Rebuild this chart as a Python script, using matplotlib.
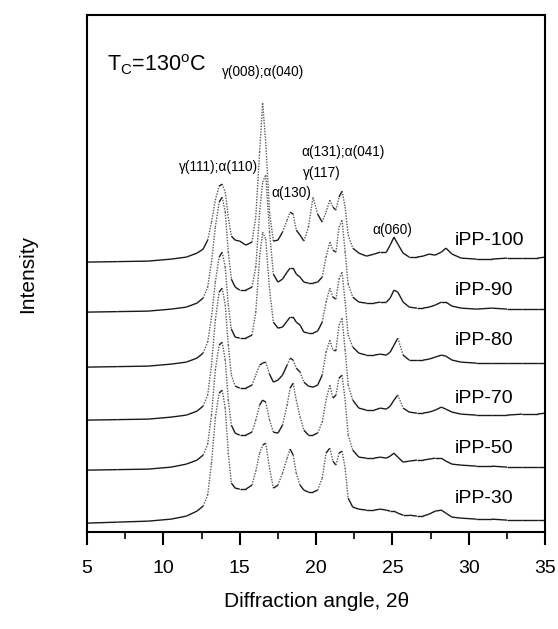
import numpy as np
import matplotlib
matplotlib.use("Agg")
import matplotlib.pyplot as plt
from matplotlib.collections import LineCollection

matplotlib.rcParams['font.family'] = ['Liberation Sans', 'DejaVu Sans']
matplotlib.rcParams['mathtext.fontset'] = 'custom'
matplotlib.rcParams['mathtext.rm'] = 'Liberation Sans'

# 2theta grid (deg)
two_theta = [5, 7, 9, 10.5, 11.5, 12.2, 12.6, 12.9, 13.15, 13.4, 13.65, 13.85, 14.05, 14.25,
             14.45, 14.7, 15.0, 15.4, 15.8, 16.05, 16.3, 16.5, 16.7, 16.95, 17.2, 17.5, 17.8,
             18.1, 18.3, 18.5, 18.7, 18.95, 19.2, 19.5, 19.8, 20.1, 20.4, 20.65, 20.9, 21.1,
             21.3, 21.5, 21.7, 21.9, 22.1, 22.4, 22.8, 23.3, 23.8, 24.2, 24.6, 24.85, 25.1,
             25.35, 25.7, 26.1, 26.6, 27.0, 27.4, 27.8, 28.2, 28.5, 28.9, 29.5, 30.5, 31.5,
             32.5, 33.5, 34.5, 35]

# intensity above each curve's own baseline (a.u.)
ipp100 = [0, 0.5, 1, 3, 5, 9, 13, 22, 40, 62, 76, 78, 70, 45,
          26, 22, 21, 17, 20, 45, 110, 159, 120, 50, 21, 22, 30,
          42, 50, 48, 32, 27, 21, 35, 65, 48, 40, 50, 62, 55,
          52, 65, 71, 55, 27, 14, 9, 6, 8, 10, 10, 17, 25,
          18, 9, 5, 5, 6, 8, 7, 10, 14, 8, 4, 3, 3,
          4, 4, 4, 5]
ipp90 = [0, 0.5, 1, 3, 5, 9, 14, 25, 50, 85, 110, 115, 100, 60,
         33, 25, 22, 22, 25, 45, 100, 130, 137, 80, 38, 30, 33,
         40, 44, 44, 38, 35, 30, 29, 29, 30, 35, 55, 70, 62,
         60, 85, 92, 60, 28, 15, 10, 9, 9, 10, 10, 14, 22,
         20, 10, 5, 4, 4, 5, 7, 10, 10, 6, 4, 3, 4,
         3, 3, 3, 3]
ipp80 = [0, 0.5, 1, 3, 5, 9, 14, 25, 50, 85, 110, 115, 100, 62,
         38, 30, 29, 29, 32, 55, 110, 135, 128, 78, 45, 39, 40,
         46, 50, 50, 45, 42, 35, 34, 34, 36, 45, 65, 79, 70,
         68, 88, 95, 65, 32, 20, 14, 12, 12, 13, 12, 15, 22,
         29, 12, 7, 7, 7, 8, 10, 12, 11, 7, 5, 4, 4,
         4, 4, 4, 4]
ipp70 = [0, 0.5, 1, 3, 5, 9, 14, 25, 55, 100, 128, 132, 115, 75,
         45, 34, 32, 32, 35, 45, 55, 57, 58, 46, 38, 40, 45,
         55, 62, 60, 52, 48, 38, 34, 33, 35, 45, 68, 80, 70,
         70, 95, 102, 70, 35, 20, 12, 10, 10, 12, 11, 14, 20,
         25, 12, 8, 7, 7, 8, 10, 13, 11, 8, 6, 5, 5,
         5, 6, 6, 7]
ipp50 = [0, 0.5, 1, 3, 6, 10, 15, 26, 55, 100, 125, 128, 110, 70,
         45, 37, 35, 35, 38, 50, 65, 70, 68, 50, 38, 37, 45,
         65, 82, 87, 70, 53, 40, 35, 35, 37, 48, 70, 85, 72,
         75, 92, 95, 70, 35, 20, 13, 12, 12, 13, 12, 14, 17,
         13, 8, 9, 10, 10, 11, 12, 12, 9, 6, 5, 4, 4,
         3, 3, 3, 3]
ipp30 = [0, 1, 2, 4, 7, 12, 17, 28, 60, 105, 130, 133, 115, 70,
         40, 35, 34, 34, 38, 52, 70, 78, 80, 55, 35, 38, 50,
         65, 74, 68, 50, 38, 33, 31, 31, 33, 45, 70, 75, 62,
         58, 70, 72, 55, 25, 16, 14, 13, 13, 14, 13, 12, 12,
         10, 8, 8, 7, 7, 9, 12, 13, 10, 6, 5, 4, 4,
         3, 3, 3, 3]

curves = [ipp100, ipp90, ipp80, ipp70, ipp50, ipp30]
names = ['iPP-100', 'iPP-90', 'iPP-80', 'iPP-70', 'iPP-50', 'iPP-30']
offsets = [270, 220, 165, 112, 62, 9]
label_y = [292, 242, 192, 134, 84, 34]

fig = plt.figure(figsize=(5.58, 6.29), dpi=100)
ax = fig.add_axes([0.156, 0.154, 0.821, 0.822])

x = np.array(two_theta)
for y, off, name, ly in zip(curves, offsets, names, label_y):
    yy = np.array(y, dtype=float) + off
    pts = np.column_stack([x, yy]).reshape(-1, 1, 2)
    segs = np.concatenate([pts[:-1], pts[1:]], axis=1)
    # steep parts of the scan look faint / dotted in the original
    slope = np.abs(np.diff(yy)) / (np.diff(x) * 15.3)
    steep = slope > 2.2
    cols = ['#5a5a5a' if s else '#1a1a1a' for s in steep]
    styles = [(0, (1, 1.0)) if s else 'solid' for s in steep]
    ax.add_collection(LineCollection(segs, colors=cols, linestyles=styles, linewidths=1.0))
    ax.text(29.1, ly, name, fontsize=14, ha='left', va='center')

# peak labels
ax.text(6.3, 467, r'T$_\mathregular{C}$=130$^\mathregular{o}$C', fontsize=15.5, ha='left', va='center')
ax.text(16.5, 460, 'γ(008);α(040)', fontsize=9.8, ha='center', va='center')
ax.text(13.6, 365, 'γ(111);α(110)', fontsize=9.8, ha='center', va='center')
ax.text(21.75, 380, 'α(131);α(041)', fontsize=9.8, ha='center', va='center')
ax.text(20.4, 359, 'γ(117)', fontsize=9.8, ha='center', va='center')
ax.text(18.4, 339, 'α(130)', fontsize=9.8, ha='center', va='center')
ax.text(25.0, 302, 'α(060)', fontsize=9.8, ha='center', va='center')

ax.set_xlim(5, 35)
ax.set_ylim(0, 517)
ax.set_xticks([5, 10, 15, 20, 25, 30, 35])
ax.set_xticks(np.arange(7.5, 35, 5), minor=True)
ax.set_yticks([])
ax.tick_params(axis='x', which='major', direction='out', length=9, width=1.5, labelsize=14, pad=11)
ax.tick_params(axis='x', which='minor', direction='out', length=5, width=1.2)
for s in ax.spines.values():
    s.set_linewidth(1.5)

ax.set_xlabel('Diffraction angle, 2θ', fontsize=15, labelpad=11)
ax.set_ylabel('Intensity', fontsize=15, labelpad=36)

plt.savefig('out.png', dpi=100)
